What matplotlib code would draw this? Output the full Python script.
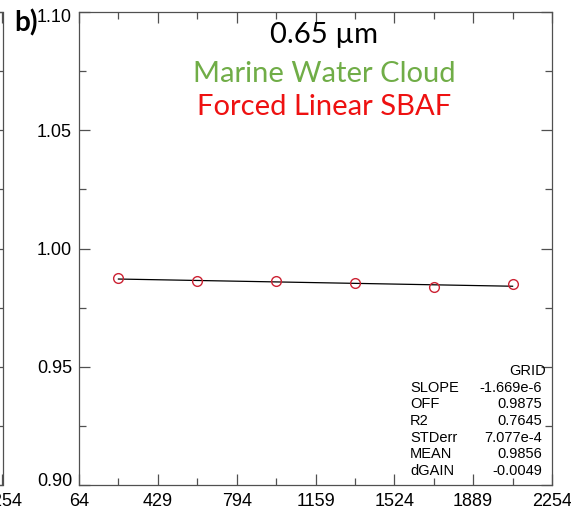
import matplotlib
matplotlib.use('Agg')
import matplotlib.pyplot as plt
import matplotlib.transforms as mtransforms
import numpy as np
from matplotlib.ticker import AutoMinorLocator

# bin centres (W/m2 bins) and mean ratio per bin
bin_x = [246.5, 611.5, 976.5, 1341.5, 1706.5, 2071.5]
ratio = [0.9874, 0.9863, 0.9863, 0.9854, 0.9837, 0.9850]

x_ticks = [64, 429, 794, 1159, 1524, 1889, 2254]
y_ticks = [0.90, 0.95, 1.00, 1.05, 1.10]

stat_names = ['SLOPE', 'OFF', 'R2', 'STDerr', 'MEAN', 'dGAIN']
stat_vals = ['-1.669e-6', '0.9875', '0.7645', '7.077e-4', '0.9856', '-0.0049']
slope = -1.669e-6
offset = 0.9875

W, H = 571, 513
fig = plt.figure(figsize=(W / 100, H / 100), dpi=100)

tick_font = ['Liberation Sans', 'DejaVu Sans']
spine_col = '#505050'


def style_axes(ax):
    ax.set_xlim(x_ticks[0], x_ticks[-1])
    ax.set_ylim(y_ticks[0], y_ticks[-1])
    ax.set_xticks(x_ticks)
    ax.set_yticks(y_ticks)
    ax.set_yticklabels(['%.2f' % v for v in y_ticks])
    ax.xaxis.set_minor_locator(AutoMinorLocator(2))
    ax.yaxis.set_minor_locator(AutoMinorLocator(2))
    ax.tick_params(which='both', direction='in', top=True, right=True,
                   color=spine_col, width=0.9)
    ax.tick_params(which='major', length=8)
    ax.tick_params(which='minor', length=5)
    ax.tick_params(axis='x', pad=6, labelsize=13)
    ax.tick_params(axis='y', pad=5, labelsize=13)
    for lab in ax.get_xticklabels() + ax.get_yticklabels():
        lab.set_family(tick_font)
    for s in ax.spines.values():
        s.set_color(spine_col)
        s.set_linewidth(0.9)


# bit of the neighbouring panel on the left, mostly off the figure
ax0 = fig.add_axes([(2.5 - 473) / W, 28 / H, 473 / W, 473 / H])
style_axes(ax0)
ax0.set_yticklabels([])

ax = fig.add_axes([79 / W, 28 / H, 473 / W, 473 / H])
style_axes(ax)

# end labels of the y axis sit a little inside the frame
ylabs = ax.get_yticklabels()
ylabs[0].set_transform(ylabs[0].get_transform() +
                       mtransforms.ScaledTranslation(0, 6 / 100, fig.dpi_scale_trans))
ylabs[-1].set_transform(ylabs[-1].get_transform() +
                        mtransforms.ScaledTranslation(0, -4 / 100, fig.dpi_scale_trans))

fit_x = np.array([bin_x[0], bin_x[-1]])
ax.plot(fit_x, offset + slope * fit_x, color='black', lw=0.9, zorder=2)
ax.plot(bin_x, ratio, 'o', ms=7, mfc='none', mec='#CC2233', mew=1.0, zorder=3)

title_font = ['Lato', 'DejaVu Sans']
ax.text(0.518, 0.934, '0.65 \u00b5m', transform=ax.transAxes, ha='center',
        va='baseline', fontsize=21, color='black', family=title_font)
ax.text(0.518, 0.852, 'Marine Water Cloud', transform=ax.transAxes, ha='center',
        va='baseline', fontsize=21, color='#70AD47', family=title_font)
ax.text(0.518, 0.782, 'Forced Linear SBAF', transform=ax.transAxes, ha='center',
        va='baseline', fontsize=21, color='#EE1111', family=title_font)

# fit statistics block
row0 = (485 - 371) / 473
step = 16.7 / 473
ax.text((546 - 79) / 473, row0, 'GRID', transform=ax.transAxes, ha='right',
        va='center', fontsize=10.5, family=tick_font)
for i, (n, v) in enumerate(zip(stat_names, stat_vals)):
    yy = row0 - (i + 1) * step
    ax.text((410 - 79) / 473, yy, n, transform=ax.transAxes, ha='left',
            va='center', fontsize=10.5, family=tick_font)
    ax.text((542 - 79) / 473, yy, v, transform=ax.transAxes, ha='right',
            va='center', fontsize=10.5, family=tick_font)

fig.text(14 / W, 1 - 31 / H, 'b)', fontsize=20, fontweight='bold',
         family=title_font, va='baseline', ha='left')

fig.savefig('out.png', dpi=100)
